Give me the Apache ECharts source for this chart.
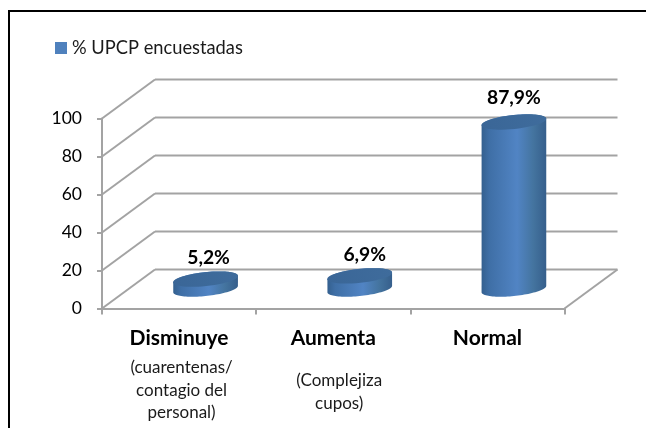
<!DOCTYPE html>
<html>
<head>
<meta charset="utf-8">
<style>html,body{margin:0;padding:0;background:#fff}#c{width:646px;height:428px}</style>
<script src="https://cdn.jsdelivr.net/npm/echarts@6/dist/echarts.min.js"></script>
</head>
<body>
<div id="c"></div>
<script>
const categories = ['Disminuye', 'Aumenta', 'Normal'];
const percentValues = [5.2, 6.9, 87.9];
const valueLabels = ['5,2%', '6,9%', '87,9%'];
const subLabels = [
  ['(cuarentenas/', 'contagio del', 'personal)'],
  ['(Complejiza', 'cupos)'],
  []
];
const yTicks = [0, 20, 40, 60, 80, 100];
const seriesName = '% UPCP encuestadas';

const FONT = 'Lato, "Noto Sans", sans-serif';
const GREY = '#a3a3a3';
const DX = 53, DY = -39;            // 3D depth offset of the back wall
const RX = 32.5, RY = 7, TILT = -6 * Math.PI / 180;
const LABEL_NUDGE = [[3, -21], [5, -21.5], [0, -24.5]];
const SUB_NUDGE = [[2.5, 59.5], [6, 72.5], [0, 0]];
const SUB_LH = 22.5;

function ellipsePoint(cx, cy, t) {
  const x = RX * Math.cos(t), y = RY * Math.sin(t);
  return [cx + x * Math.cos(TILT) - y * Math.sin(TILT),
          cy + x * Math.sin(TILT) + y * Math.cos(TILT)];
}
function ellipsePoly(cx, cy, from, to) {
  const out = [], n = 48;
  for (let i = 0; i <= n; i++) out.push(ellipsePoint(cx, cy, from + (to - from) * i / n));
  return out;
}

const chart = echarts.init(document.getElementById('c'), null, { renderer: 'canvas' });

function wallItem(params, api) {
  const v = api.value(0);
  const p = api.coord([0, v]);
  const left = params.coordSys.x, right = left + params.coordSys.width;
  const style = { stroke: GREY, lineWidth: 2, fill: null };
  const kids = [
    { type: 'line', shape: { x1: left, y1: p[1], x2: left + DX, y2: p[1] + DY }, style },
    { type: 'line', shape: { x1: left + DX, y1: p[1] + DY, x2: right + DX, y2: p[1] + DY }, style }
  ];
  if (v === yTicks[0]) {
    kids.push({ type: 'line', shape: { x1: right, y1: p[1], x2: right + DX, y2: p[1] + DY }, style });
  }
  return { type: 'group', children: kids };
}

function cylinderItem(params, api) {
  const i = api.value(0);
  const base = api.coord([i, 0]);
  const top = api.coord([i, api.value(1)]);
  const cx = base[0] + DX / 2;
  const by = base[1] + DY / 2;
  const ty = top[1] + DY / 2;
  const tx = Math.atan2(-RY * Math.sin(TILT), RX * Math.cos(TILT));
  const body = ellipsePoly(cx, by, tx, tx + Math.PI)
    .concat(ellipsePoly(cx, ty, tx + Math.PI, tx + 2 * Math.PI));
  const sideFill = new echarts.graphic.LinearGradient(0, 0, 1, 0, [
    { offset: 0, color: '#34608f' },
    { offset: 0.12, color: '#3f6fa6' },
    { offset: 0.55, color: '#5184c4' },
    { offset: 0.8, color: '#44749f' },
    { offset: 1, color: '#365f8c' }
  ]);
  const topFill = new echarts.graphic.LinearGradient(0, 1, 1, 0, [
    { offset: 0, color: '#3a6697' },
    { offset: 1, color: '#3f6c9c' }
  ]);
  const [lx, ly] = LABEL_NUDGE[i];
  return {
    type: 'group',
    children: [
      { type: 'polygon', shape: { points: body }, style: { fill: sideFill, stroke: null } },
      { type: 'polygon', shape: { points: ellipsePoly(cx, ty, 0, 2 * Math.PI) }, style: { fill: topFill, stroke: null } },
      {
        type: 'text',
        style: {
          x: cx + lx, y: ty + ly, text: valueLabels[i],
          font: 'bold 19.3px ' + FONT, fill: '#000', align: 'center', verticalAlign: 'middle'
        }
      }
    ]
  };
}

function subLabelItem(params, api) {
  const i = api.value(0);
  const p = api.coord([i, 0]);
  const [nx, ny] = SUB_NUDGE[i];
  return {
    type: 'group',
    children: subLabels[i].map((line, k) => ({
      type: 'text',
      style: {
        x: p[0] + nx, y: p[1] + ny + k * SUB_LH, text: line,
        font: '17px ' + FONT, fill: '#1a1a1a', align: 'center', verticalAlign: 'middle'
      }
    }))
  };
}

chart.setOption({
  animation: false,
  backgroundColor: '#fff',
  textStyle: { fontFamily: FONT },
  legend: {
    data: [{ name: seriesName, icon: 'rect', itemStyle: { color: '#4f81bd' } }],
    left: 55, top: 39, itemWidth: 12, itemHeight: 12, itemGap: 5,
    textStyle: { fontFamily: FONT, fontSize: 18.3, color: '#1a1a1a' },
    padding: 0, selectedMode: false
  },
  grid: { left: 102, top: 118.5, width: 462.5, height: 190, containLabel: false },
  xAxis: {
    type: 'category', data: categories, boundaryGap: true,
    axisLine: { show: true, lineStyle: { color: GREY, width: 2 } },
    axisTick: { show: true, alignWithLabel: false, length: 6, lineStyle: { color: GREY, width: 2 } },
    axisLabel: { fontFamily: FONT, fontSize: 21, fontWeight: 'bold', color: '#000', margin: 19.5 },
    splitLine: { show: false }
  },
  yAxis: {
    type: 'value', min: 0, max: 100, interval: 20,
    axisLine: { show: true, lineStyle: { color: GREY, width: 2 } },
    axisTick: { show: true, length: 5, lineStyle: { color: GREY, width: 2 } },
    axisLabel: { fontFamily: FONT, fontSize: 17.5, color: '#000', margin: 20, padding: [8, 0, 0, 0] },
    splitLine: { show: false }
  },
  series: [
    {
      type: 'custom', coordinateSystem: 'cartesian2d', clip: false, silent: true, z: 1,
      encode: { x: 1, y: 0 },
      data: yTicks.map(v => [v, 0]), renderItem: wallItem
    },
    {
      name: seriesName, type: 'custom', coordinateSystem: 'cartesian2d', clip: false, silent: true, z: 3,
      itemStyle: { color: '#4f81bd' },
      encode: { x: 0, y: 1 },
      data: percentValues.map((v, i) => [i, v]), renderItem: cylinderItem
    },
    {
      type: 'custom', coordinateSystem: 'cartesian2d', clip: false, silent: true, z: 4,
      encode: { x: 0, y: 1 },
      data: categories.map((c, i) => [i, 0]), renderItem: subLabelItem
    }
  ],
  graphic: [{
    type: 'polyline', silent: true, z: 10,
    shape: { points: [[9, 428], [9, 11], [646, 11]] },
    style: { stroke: '#000', lineWidth: 2, fill: null }
  }]
});
</script>
</body>
</html>
